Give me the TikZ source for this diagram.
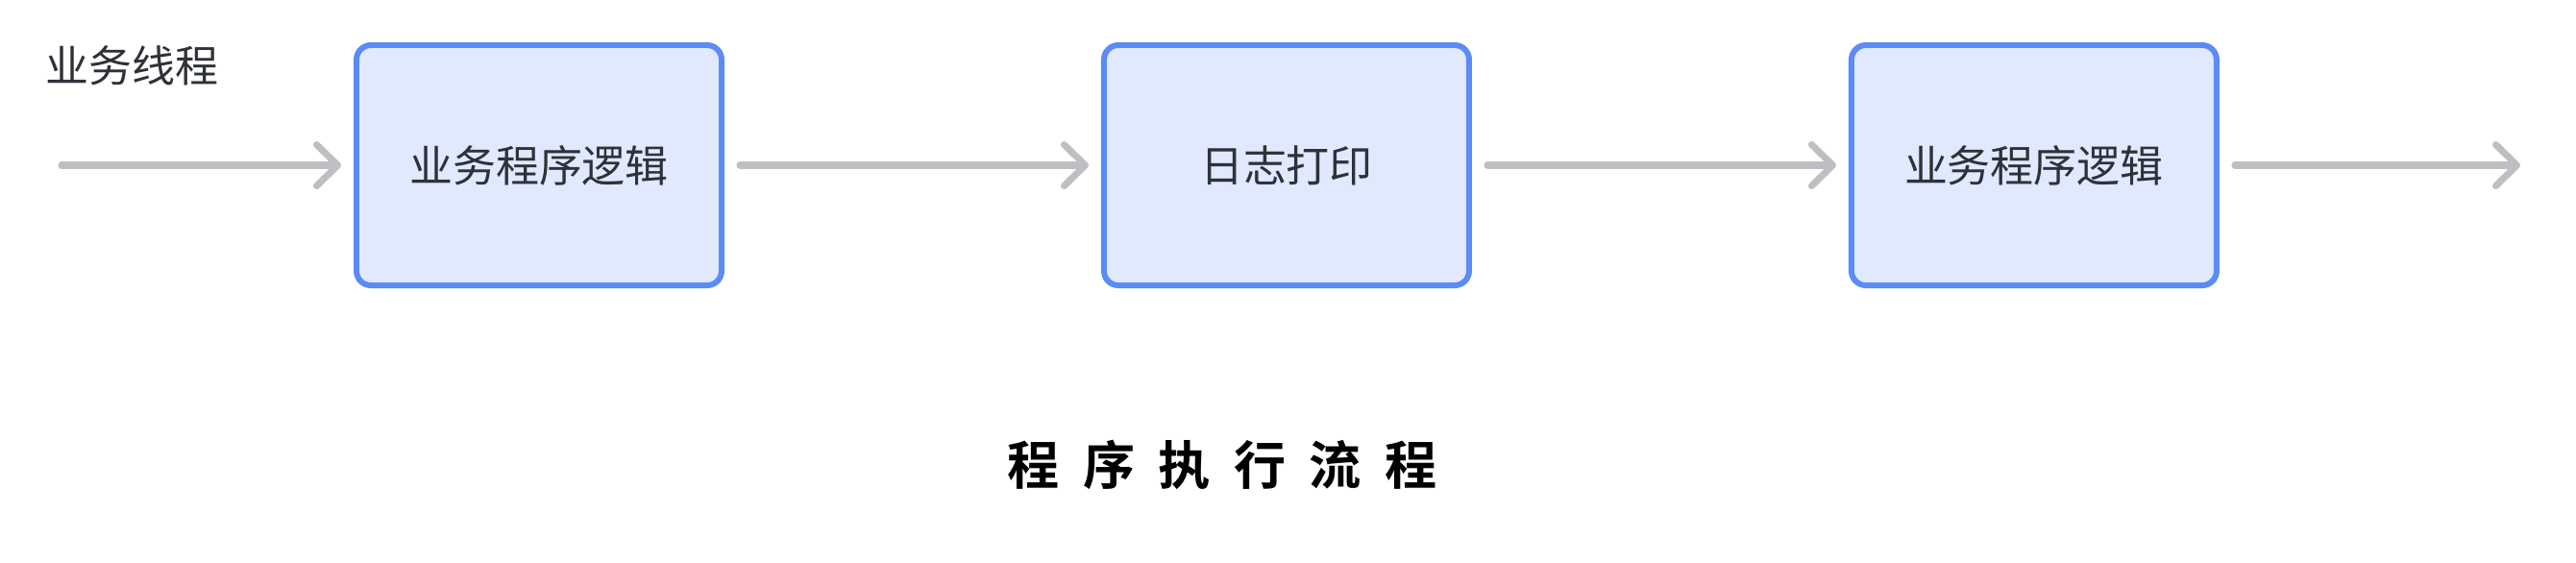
\documentclass[tikz,border=0pt]{standalone}
\usepackage{fontspec}
\usepackage{xcolor}
\usetikzlibrary{arrows.meta,positioning}
\setmainfont{Noto Sans CJK SC}
\newfontfamily\titlefont[LetterSpace=45]{Noto Sans CJK SC Bold}
\definecolor{flowBlue}{HTML}{5A8BF6}
\definecolor{flowFill}{HTML}{E0E9FD}
\definecolor{flowGray}{HTML}{BDBFC2}
\definecolor{flowInk}{HTML}{2E3238}

\begin{document}
\begin{tikzpicture}[
 stagebox/.style={draw=flowBlue,line width=1.7pt,fill=flowFill,rounded corners=0.15cm,
  minimum width=3.80cm,minimum height=2.50cm,inner sep=0pt,text=flowInk,
  font=\fontsize{12.8}{15}\selectfont},
 flowline/.style={flowGray,line width=2pt,line cap=round,
  -{Straight Barb[length=0.22cm,width=0.43cm,round]},
  shorten <=0.16cm,shorten >=0.13cm},
 node distance=3.92cm]
\useasboundingbox (0,0) rectangle (26.81,-5.85);
% stages of the business thread
\node[stagebox] (logicA) at (5.61,-1.72) {业务程序逻辑};
\node[stagebox,right=of logicA] (logPrint) {日志打印};
\node[stagebox,right=of logPrint] (logicB) {业务程序逻辑};
\coordinate (threadIn) at (0.64,-1.72);
\coordinate (threadOut) at (26.23,-1.72);
\node[text=flowInk,font=\fontsize{12.8}{15}\selectfont] (threadLbl) at (1.375,-0.68) {业务线程};
\draw[flowline,shorten <=0pt] (threadIn) -- (logicA);
\draw[flowline] (logicA) -- (logPrint);
\draw[flowline] (logPrint) -- (logicB);
\draw[flowline,shorten >=0pt] (logicB) -- (threadOut);
\node[font=\titlefont\fontsize{15.4}{18}\selectfont] (title) at (12.72,-4.84) {程序执行流程};
\end{tikzpicture}
\end{document}
